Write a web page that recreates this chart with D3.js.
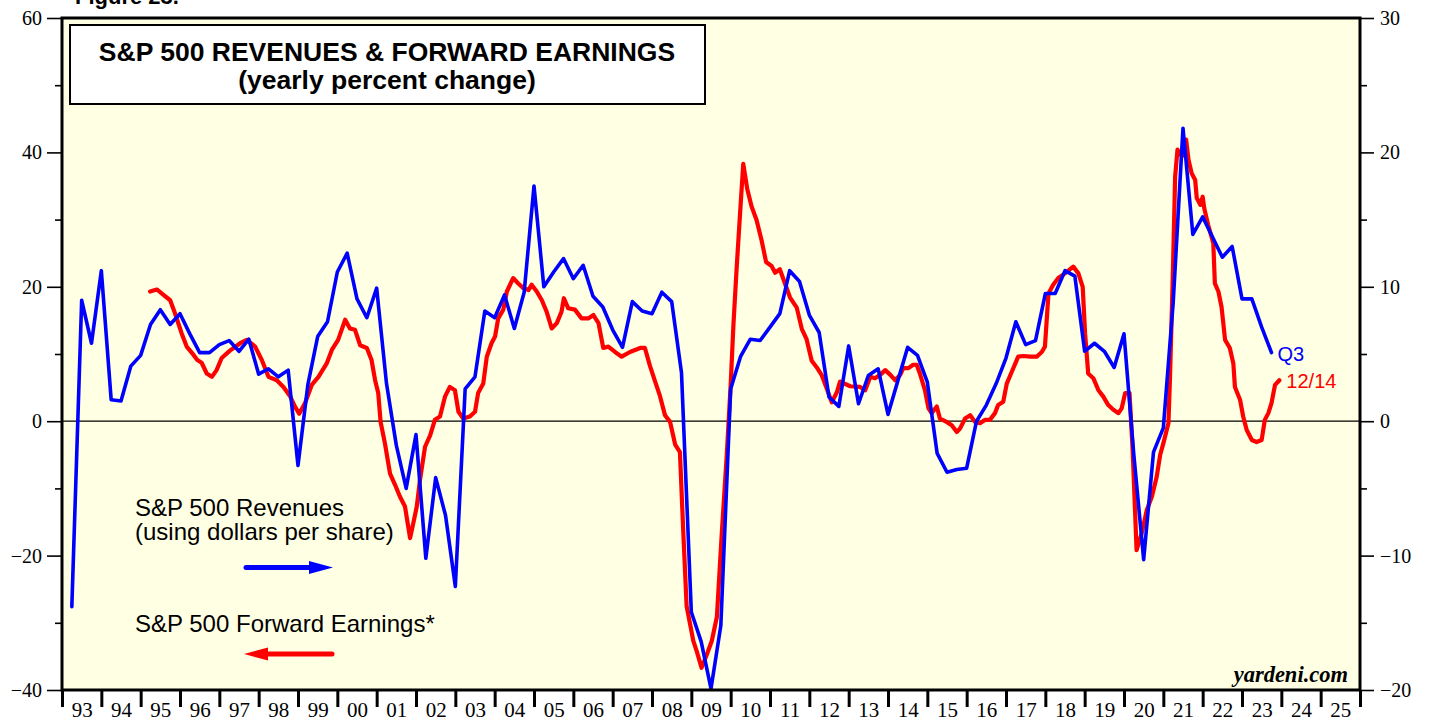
<!DOCTYPE html>
<html>
<head>
<meta charset="utf-8">
<script src="https://cdn.jsdelivr.net/npm/d3@7"></script>
<style>
  body { margin: 0; background: #fff; }
  svg { display: block; }
</style>
</head>
<body>
<svg id="chart" width="1429" height="719"></svg>
<script>
// S&P 500 revenues per share, y/y % (right axis), quarterly from 1993 Q1
var revFirstQuarter = 1993.25;
var revValues = [
  -13.8, 9.0, 5.8, 11.2, 1.6, 1.5, 4.1, 4.9, 7.2, 8.3,
  7.2, 8.0, 6.5, 5.1, 5.1, 5.7, 6.0, 5.2, 6.1, 3.5,
  3.9, 3.3, 3.8, -3.3, 2.7, 6.3, 7.4, 11.1, 12.5, 9.1,
  7.7, 9.9, 2.8, -1.8, -5.0, -1.0, -10.2, -4.2, -7.0, -12.3,
  2.4, 3.3, 8.2, 7.7, 9.4, 6.9, 9.6, 17.5, 10.0, 11.1,
  12.1, 10.6, 11.6, 9.3, 8.5, 6.8, 5.5, 8.9, 8.2, 8.0,
  9.6, 8.9, 3.6, -14.2, -16.4, -19.9, -15.2, 2.4, 4.8, 6.1,
  6.0, 7.0, 8.0, 11.2, 10.4, 7.9, 6.6, 1.8, 1.1, 5.6,
  1.3, 3.4, 3.9, 0.5, 3.0, 5.5, 4.9, 2.9, -2.4, -3.8,
  -3.6, -3.5, 0.0, 1.2, 2.8, 4.7, 7.4, 5.7, 6.0, 9.5,
  9.5, 11.2, 10.8, 5.2, 5.8, 5.2, 4.0, 6.5, -2.5, -10.3,
  -2.3, -0.5, 8.8, 21.8, 13.9, 15.2, 13.7, 12.2, 13.0, 9.1,
  9.1, 7.0, 5.1
];

// S&P 500 forward earnings, y/y % (left axis)
var earnYears = [
  1995.24,1995.41,1995.58,1995.75,1995.87,1996.04,1996.17,1996.34,1996.44,1996.55,
  1996.68,1996.81,1996.93,1997.06,1997.27,1997.53,1997.70,1997.91,1998.08,1998.25,
  1998.46,1998.63,1998.80,1998.92,1999.03,1999.18,1999.35,1999.52,1999.73,1999.86,
  2000.02,2000.20,2000.32,2000.45,2000.58,2000.75,2000.87,2000.96,2001.04,2001.10,
  2001.21,2001.34,2001.47,2001.59,2001.72,2001.85,2001.93,2002.02,2002.10,2002.23,
  2002.36,2002.48,2002.61,2002.74,2002.86,2002.99,2003.08,2003.20,2003.37,2003.50,
  2003.58,2003.71,2003.80,2003.92,2004.01,2004.09,2004.22,2004.31,2004.47,2004.60,
  2004.73,2004.86,2004.94,2005.07,2005.20,2005.32,2005.45,2005.58,2005.70,2005.76,
  2005.87,2006.04,2006.21,2006.38,2006.51,2006.64,2006.76,2006.89,2007.06,2007.23,
  2007.44,2007.70,2007.82,2007.95,2008.08,2008.20,2008.33,2008.46,2008.59,2008.71,
  2008.80,2008.88,2009.05,2009.14,2009.26,2009.39,2009.52,2009.65,2009.77,2009.90,
  2010.00,2010.07,2010.15,2010.24,2010.32,2010.42,2010.53,2010.66,2010.79,2010.90,
  2011.04,2011.13,2011.25,2011.38,2011.51,2011.68,2011.81,2011.93,2012.06,2012.19,
  2012.31,2012.44,2012.57,2012.70,2012.78,2013.04,2013.29,2013.42,2013.55,2013.67,
  2013.80,2013.93,2014.06,2014.18,2014.31,2014.39,2014.52,2014.64,2014.73,2014.81,
  2014.94,2015.03,2015.11,2015.24,2015.32,2015.49,2015.62,2015.75,2015.83,2015.96,
  2016.09,2016.21,2016.34,2016.47,2016.59,2016.72,2016.80,2016.93,2017.02,2017.15,
  2017.31,2017.44,2017.61,2017.78,2017.91,2017.99,2018.08,2018.20,2018.33,2018.50,
  2018.71,2018.84,2018.95,2019.01,2019.09,2019.22,2019.35,2019.47,2019.60,2019.73,
  2019.86,2019.94,2020.03,2020.14,2020.22,2020.32,2020.45,2020.58,2020.71,2020.83,
  2020.92,2021.00,2021.13,2021.17,2021.24,2021.30,2021.36,2021.47,2021.58,2021.64,
  2021.72,2021.81,2021.85,2021.94,2022.00,2022.04,2022.14,2022.27,2022.31,2022.40,
  2022.48,2022.57,2022.69,2022.78,2022.82,2022.95,2023.03,2023.12,2023.25,2023.37,
  2023.50,2023.58,2023.67,2023.75,2023.84,2023.95
];
var earnValues = [
  19.3,19.6,18.8,18.0,16.1,13.1,11.1,9.9,9.1,8.7,
  7.1,6.6,7.6,9.4,10.5,11.6,12.1,11.1,9.1,6.6,
  6.1,5.1,3.7,2.2,1.1,2.7,5.4,6.6,8.6,10.6,
  12.1,15.1,13.8,13.6,11.3,10.9,9.1,6.1,4.2,-0.1,
  -3.3,-7.8,-9.5,-11.2,-12.7,-17.4,-15.2,-12.7,-8.8,-3.8,
  -2.1,0.2,0.7,3.7,5.1,4.6,1.4,0.4,0.7,1.4,
  4.2,5.6,9.6,11.6,12.6,15.3,16.6,19.3,21.3,20.5,
  19.8,19.5,20.3,19.3,18.0,16.3,13.8,14.6,16.3,18.3,
  16.8,16.6,15.3,15.3,15.8,14.6,10.9,11.1,10.3,9.6,
  10.3,10.9,10.9,8.2,5.9,3.8,0.9,-0.1,-3.5,-4.6,
  -17.1,-27.5,-32.7,-34.3,-36.7,-34.8,-32.7,-29.1,-17.1,-5.1,
  5.4,14.3,22.6,31.0,38.3,34.6,32.0,29.9,26.8,23.7,
  23.1,22.1,22.6,20.5,18.4,16.9,13.7,12.2,9.0,8.0,
  6.9,4.9,2.8,4.3,5.9,5.2,5.1,4.6,6.6,6.4,
  6.9,7.6,6.9,6.1,6.9,7.9,7.9,8.4,8.4,7.1,
  4.6,1.9,1.2,2.2,0.4,-0.1,-0.6,-1.6,-1.1,0.4,
  0.9,-0.1,-0.3,0.2,0.2,1.2,2.4,2.9,5.6,7.4,
  9.6,9.7,9.6,9.6,10.3,11.1,19.0,20.3,21.3,22.0,
  23.0,22.0,20.0,13.1,7.1,6.4,4.6,3.7,2.4,1.7,
  1.2,1.9,4.2,4.2,-4.3,-19.2,-16.7,-13.2,-11.2,-8.3,
  -5.0,-3.3,-0.3,6.6,21.5,36.4,40.4,39.4,41.9,38.9,
  36.9,35.9,33.2,32.2,33.4,31.7,29.2,26.5,20.5,19.3,
  17.0,12.1,10.9,8.6,5.1,3.2,0.7,-1.3,-2.8,-3.1,
  -2.8,0.2,1.2,2.7,5.4,6.1
];

var yearLabels = ['93','94','95','96','97','98','99','00','01','02','03','04','05','06','07','08','09',
                  '10','11','12','13','14','15','16','17','18','19','20','21','22','23','24','25'];
var leftTicks = [-40, -20, 0, 20, 40, 60];
var leftMinor = [-30, -10, 10, 30, 50];
var rightTicks = [-20, -10, 0, 10, 20, 30];
var rightMinor = [-15, -5, 5, 15, 25];

var serif = '"Liberation Serif", "Times New Roman", serif';
var sans = '"Liberation Sans", Arial, sans-serif';

var svg = d3.select('#chart');
var pL = 62, pR = 1360, pT = 18, pB = 690;

var x = d3.scaleLinear().domain([1993, 2026]).range([pL, pR]);
var yL = d3.scaleLinear().domain([-40, 60]).range([pB, pT]);
var yR = d3.scaleLinear().domain([-20, 30]).range([pB, pT]);

svg.append('rect').attr('width', 1429).attr('height', 719).attr('fill', '#fff');

// clipped figure caption at the very top
svg.append('text')
  .attr('x', 75).attr('y', 4)
  .style('font-family', sans).style('font-size', '22px').style('font-weight', 'bold')
  .text('Figure 23.');

// plot background
svg.append('rect')
  .attr('x', pL).attr('y', pT)
  .attr('width', pR - pL).attr('height', pB - pT)
  .attr('fill', '#ffffe4');

svg.append('defs').append('clipPath').attr('id', 'plotclip')
  .append('rect').attr('x', pL).attr('y', pT).attr('width', pR - pL).attr('height', pB - pT);

// zero line
svg.append('line')
  .attr('x1', pL).attr('x2', pR)
  .attr('y1', yL(0)).attr('y2', yL(0))
  .attr('stroke', '#000').attr('stroke-width', 1.2);

var plot = svg.append('g').attr('clip-path', 'url(#plotclip)');

var earnLine = d3.line()
  .x(function(d, i) { return x(earnYears[i]); })
  .y(function(d) { return yL(d); });

plot.append('path')
  .datum(earnValues)
  .attr('d', earnLine)
  .attr('fill', 'none').attr('stroke', '#ff0000')
  .attr('stroke-width', 4.2).attr('stroke-linejoin', 'round').attr('stroke-linecap', 'round');

var revLine = d3.line()
  .x(function(d, i) { return x(revFirstQuarter + i * 0.25); })
  .y(function(d) { return yR(d); });

plot.append('path')
  .datum(revValues)
  .attr('d', revLine)
  .attr('fill', 'none').attr('stroke', '#0000ff')
  .attr('stroke-width', 3.6).attr('stroke-linejoin', 'round').attr('stroke-linecap', 'round');

// end labels
svg.append('text')
  .attr('x', x(revFirstQuarter + (revValues.length - 1) * 0.25) + 6)
  .attr('y', yR(revValues[revValues.length - 1]) + 8)
  .attr('fill', '#0000ff')
  .style('font-family', sans).style('font-size', '20px')
  .text('Q3');
svg.append('text')
  .attr('x', x(earnYears[earnYears.length - 1]) + 7)
  .attr('y', yL(earnValues[earnValues.length - 1]) + 8)
  .attr('fill', '#ff0000')
  .style('font-family', sans).style('font-size', '20px')
  .text('12/14');

// frame
svg.append('rect')
  .attr('x', pL).attr('y', pT)
  .attr('width', pR - pL).attr('height', pB - pT)
  .attr('fill', 'none').attr('stroke', '#000').attr('stroke-width', 3);

function styleAxis(g, w, fs) {
  g.select('.domain').remove();
  g.selectAll('line').attr('stroke', '#000').attr('stroke-width', w);
  g.selectAll('text').style('font-family', serif).style('font-size', fs + 'px').attr('fill', '#000');
}

// left axis
svg.append('g').attr('transform', 'translate(' + pL + ',0)')
  .call(d3.axisLeft(yL).tickValues(leftTicks).tickSize(15).tickPadding(5))
  .call(styleAxis, 1.6, 20);
svg.append('g').attr('transform', 'translate(' + pL + ',0)')
  .call(d3.axisLeft(yL).tickValues(leftMinor).tickSize(7).tickFormat(''))
  .call(styleAxis, 1.6, 20);

// right axis
svg.append('g').attr('transform', 'translate(' + pR + ',0)')
  .call(d3.axisRight(yR).tickValues(rightTicks).tickSize(14).tickPadding(6))
  .call(styleAxis, 1.6, 20);
svg.append('g').attr('transform', 'translate(' + pR + ',0)')
  .call(d3.axisRight(yR).tickValues(rightMinor).tickSize(7).tickFormat(''))
  .call(styleAxis, 1.6, 20);

// bottom axis: year boundaries + centred labels
svg.append('g').attr('transform', 'translate(0,' + pB + ')')
  .call(d3.axisBottom(x).tickValues(d3.range(1993, 2027)).tickSize(17).tickFormat(''))
  .call(styleAxis, 3, 21);
svg.append('g').attr('transform', 'translate(0,' + pB + ')')
  .call(d3.axisBottom(x).tickValues(yearLabels.map(function(d, i) { return 1993.5 + i; }))
    .tickSize(0).tickPadding(12).tickFormat(function(d, i) { return yearLabels[i]; }))
  .call(styleAxis, 0, 21);

// title box
svg.append('rect')
  .attr('x', 70).attr('y', 25).attr('width', 635).attr('height', 79)
  .attr('fill', '#fff').attr('stroke', '#000').attr('stroke-width', 2);
svg.append('text')
  .attr('x', 387).attr('y', 61).attr('text-anchor', 'middle')
  .style('font-family', sans).style('font-size', '26.5px').style('font-weight', 'bold')
  .text('S&P 500 REVENUES & FORWARD EARNINGS');
svg.append('text')
  .attr('x', 387).attr('y', 89).attr('text-anchor', 'middle')
  .style('font-family', sans).style('font-size', '26.5px').style('font-weight', 'bold')
  .text('(yearly percent change)');

// legend
var legend = svg.append('g').style('font-family', sans).style('font-size', '24px').attr('fill', '#000');
legend.append('text').attr('x', 135).attr('y', 516).text('S&P 500 Revenues');
legend.append('text').attr('x', 135).attr('y', 540).text('(using dollars per share)');
legend.append('text').attr('x', 135).attr('y', 632).text('S&P 500 Forward Earnings*');

function arrow(x1, x2, yy, color) {
  var dir = x2 > x1 ? 1 : -1;
  var headLen = 24, headHalf = 6.5;
  svg.append('line')
    .attr('x1', x1).attr('x2', x2 - dir * headLen + dir * 2)
    .attr('y1', yy).attr('y2', yy)
    .attr('stroke', color).attr('stroke-width', 5).attr('stroke-linecap', 'round');
  svg.append('path')
    .attr('d', 'M' + x2 + ',' + yy + 'L' + (x2 - dir * headLen) + ',' + (yy - headHalf) +
               'L' + (x2 - dir * headLen) + ',' + (yy + headHalf) + 'Z')
    .attr('fill', color);
}
arrow(246, 333, 567.5, '#0000ff');
arrow(332, 244, 654, '#ff0000');

// source
svg.append('text')
  .attr('x', 1348).attr('y', 682).attr('text-anchor', 'end')
  .style('font-family', serif).style('font-size', '22.5px')
  .style('font-weight', 'bold').style('font-style', 'italic')
  .text('yardeni.com');
</script>
</body>
</html>
